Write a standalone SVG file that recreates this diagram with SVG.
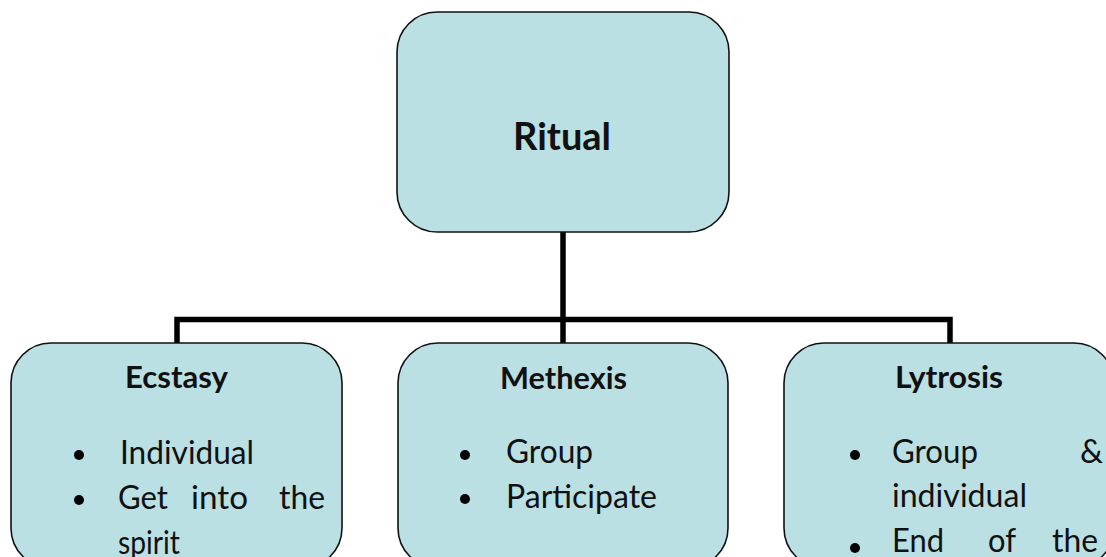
<svg xmlns="http://www.w3.org/2000/svg" width="1106" height="557" viewBox="0 0 1106 557">
<style>
.box{fill:#BAE0E3;stroke:#111;stroke-width:1.6}
.conn{fill:none;stroke:#000;stroke-width:5.5;stroke-linejoin:miter;stroke-linecap:butt}
.t{font-family:Lato,"Open Sans","Liberation Sans",sans-serif;fill:#111}
.big{font-size:38px;font-weight:bold}
.hd{font-size:31px;font-weight:bold}
.bd{font-size:32px}
.bul{fill:#000}
</style>
<rect width="1106" height="557" fill="#fff"/>
<g id="connectors">
<path class="conn" d="M563,231 V343"/>
<path class="conn" d="M177,344 V319.5 H950 V344"/>
</g>
<g id="ritual">
<rect class="box" x="397" y="12" width="332" height="220" rx="40" ry="40"/>
<text class="t big" x="513" y="150" textLength="98" lengthAdjust="spacingAndGlyphs">Ritual</text>
</g>
<g id="ecstasy">
<rect class="box" x="11" y="343" width="331" height="225" rx="40" ry="40"/>
<text class="t hd" x="125" y="388" textLength="103" lengthAdjust="spacingAndGlyphs">Ecstasy</text>
<circle class="bul" cx="79" cy="455" r="5"/>
<circle class="bul" cx="79" cy="500" r="5"/>
<text class="t bd" x="120" y="464" textLength="134" lengthAdjust="spacingAndGlyphs">Individual</text>
<text class="t bd" x="118" y="509" textLength="50" lengthAdjust="spacingAndGlyphs">Get</text>
<text class="t bd" x="191" y="509" textLength="57" lengthAdjust="spacingAndGlyphs">into</text>
<text class="t bd" x="279" y="509" textLength="46" lengthAdjust="spacingAndGlyphs">the</text>
<text class="t bd" x="118" y="554" textLength="62" lengthAdjust="spacingAndGlyphs">spirit</text>
</g>
<g id="methexis">
<rect class="box" x="398" y="343" width="330" height="225" rx="40" ry="40"/>
<text class="t hd" x="500" y="389" textLength="127" lengthAdjust="spacingAndGlyphs">Methexis</text>
<circle class="bul" cx="465" cy="455" r="5"/>
<circle class="bul" cx="465" cy="499" r="5"/>
<text class="t bd" x="506" y="463" textLength="87" lengthAdjust="spacingAndGlyphs">Group</text>
<text class="t bd" x="506" y="508" textLength="151" lengthAdjust="spacingAndGlyphs">Participate</text>
</g>
<g id="lytrosis">
<rect class="box" x="784" y="343" width="330" height="225" rx="40" ry="40"/>
<text class="t hd" x="895" y="388" textLength="108" lengthAdjust="spacingAndGlyphs">Lytrosis</text>
<circle class="bul" cx="855" cy="455" r="5"/>
<circle class="bul" cx="855" cy="548" r="5"/>
<text class="t bd" x="892" y="463" textLength="86" lengthAdjust="spacingAndGlyphs">Group</text>
<text class="t bd" x="1080" y="463" textLength="23" lengthAdjust="spacingAndGlyphs">&amp;</text>
<text class="t bd" x="892" y="507" textLength="135" lengthAdjust="spacingAndGlyphs">individual</text>
<text class="t bd" x="892" y="552" textLength="52" lengthAdjust="spacingAndGlyphs">End</text>
<text class="t bd" x="988" y="552" textLength="28" lengthAdjust="spacingAndGlyphs">of</text>
<text class="t bd" x="1052" y="552" textLength="46" lengthAdjust="spacingAndGlyphs">the</text>
</g>
</svg>
